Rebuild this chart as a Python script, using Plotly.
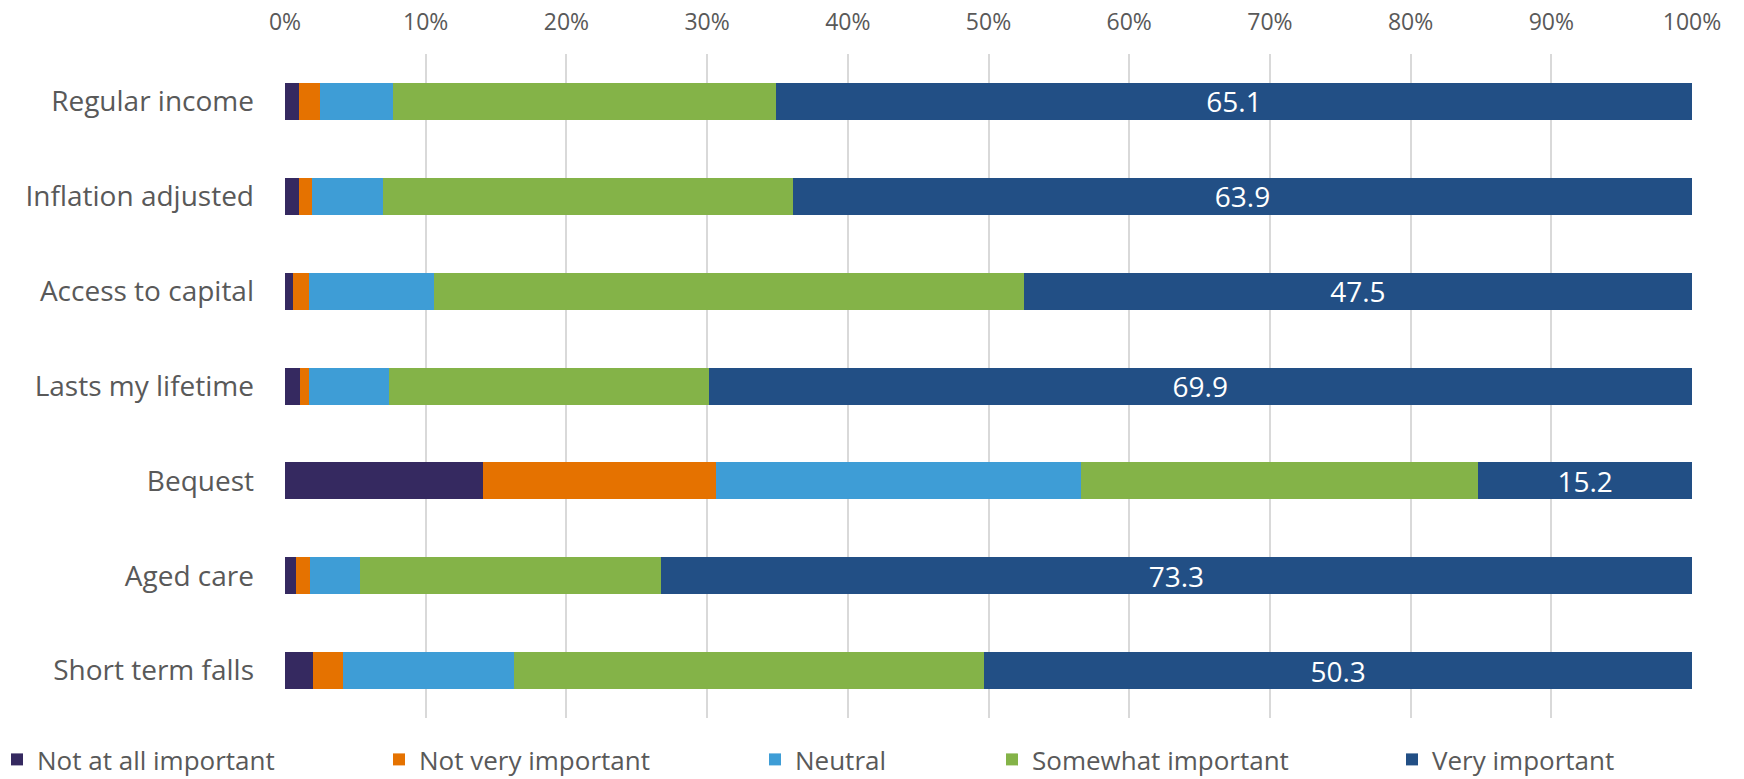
import plotly.graph_objects as go

categories = ["Regular income", "Inflation adjusted", "Access to capital",
              "Lasts my lifetime", "Bequest", "Aged care", "Short term falls"]

not_at_all = [1.0, 1.0, 0.6, 1.1, 14.1, 0.8, 2.0]
not_very = [1.5, 0.9, 1.1, 0.6, 16.5, 1.0, 2.1]
neutral = [5.2, 5.1, 8.9, 5.7, 26.0, 3.5, 12.2]
somewhat = [27.2, 29.1, 41.9, 22.7, 28.2, 21.4, 33.4]
very = [65.1, 63.9, 47.5, 69.9, 15.2, 73.3, 50.3]

series_names = ["Not at all important", "Not very important", "Neutral",
                "Somewhat important", "Very important"]
series_values = [not_at_all, not_very, neutral, somewhat, very]
colors = ["#352960", "#E57200", "#3E9DD6", "#84B348", "#224F85"]

tick_vals = [0, 10, 20, 30, 40, 50, 60, 70, 80, 90, 100]
tick_text = ["0%", "10%", "20%", "30%", "40%", "50%", "60%", "70%", "80%", "90%", "100%"]

FONT = "Open Sans"
GREY = "#595959"

W, H = 1744, 779
L, R, T, B = 285, 52, 54, 61
plot_w = W - L - R
plot_h = H - T - B

# legend item symbol centres (px)
legend_px = [23, 405, 781, 1018, 1418]
legend_keys = ["legend", "legend2", "legend3", "legend4", "legend5"]

fig = go.Figure()
for i, (name, vals, col) in enumerate(zip(series_names, series_values, colors)):
    kw = {}
    if name == "Very important":
        kw = dict(text=[f"{v:.1f}" for v in vals], texttemplate="%{text}",
                  textposition="inside", insidetextanchor="middle",
                  textfont=dict(family=FONT, size=28, color="white"),
                  constraintext="none", textangle=0)
    fig.add_trace(go.Bar(
        y=categories, x=vals, name=name, orientation="h",
        marker=dict(color=col, line=dict(width=0)),
        legend=legend_keys[i], showlegend=True, hoverinfo="skip", **kw))

layout_legends = {}
for key, px in zip(legend_keys, legend_px):
    layout_legends[key] = dict(
        x=(px - 26 - L) / plot_w, xanchor="left",
        y=-(H + 4 - (T + plot_h)) / plot_h, yanchor="bottom", orientation="h",
        font=dict(family=FONT, size=26, color=GREY),
        bgcolor="rgba(0,0,0,0)", borderwidth=0, itemwidth=30)

fig.update_layout(
    width=W, height=H, barmode="stack", bargap=0.61,
    plot_bgcolor="white", paper_bgcolor="white",
    margin=dict(l=L, r=R, t=T, b=B, autoexpand=False),
    showlegend=True,
    font=dict(family=FONT, color=GREY),
    **layout_legends,
)
fig.update_xaxes(
    side="top", range=[0, 100], tickvals=tick_vals, ticktext=tick_text,
    showgrid=True, gridcolor="#D9D9D9", gridwidth=1.5, zeroline=False,
    showline=False, ticks="", tickfont=dict(family=FONT, size=23, color=GREY),
    ticklabelstandoff=18, automargin=False, fixedrange=True)
fig.update_yaxes(
    categoryorder="array", categoryarray=categories, autorange="reversed",
    showgrid=False, zeroline=False, showline=False, ticks="", automargin=False,
    tickfont=dict(family=FONT, size=28, color=GREY), ticklabelstandoff=30,
    fixedrange=True)

fig.write_html(
    "out.html",
    config={"displayModeBar": False},
    post_script="document.body.style.margin='0';document.body.style.overflow='hidden';",
)
